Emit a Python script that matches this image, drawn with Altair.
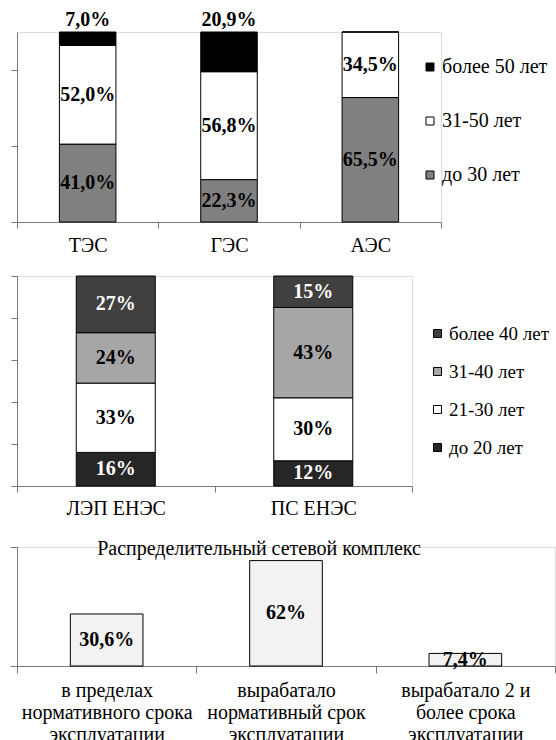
import altair as alt
import pandas as pd

FONT = "Liberation Serif"
AXIS_GRAY = "#7a7a7a"

# ---------- Panel 1: power plants ----------
p1_categories = ["ТЭС", "ГЭС", "АЭС"]
p1_groups = ["до 30 лет", "31-50 лет", "более 50 лет"]          # bottom -> top
p1_colors = ["#808080", "#ffffff", "#000000"]
p1_under30 = [41.0, 22.3, 65.5]
p1_31_50 = [52.0, 56.8, 34.5]
p1_over50 = [7.0, 20.9, 0.0]

# ---------- Panel 2: UNEG networks ----------
p2_categories = ["ЛЭП ЕНЭС", "ПС ЕНЭС"]
p2_groups = ["до 20 лет", "21-30 лет", "31-40 лет", "более 40 лет"]  # bottom -> top
p2_colors = ["#262626", "#ffffff", "#a6a6a6", "#404040"]
p2_under20 = [16, 12]
p2_21_30 = [33, 30]
p2_31_40 = [24, 43]
p2_over40 = [27, 15]

# ---------- Panel 3: distribution grid ----------
p3_title = "Распределительный сетевой комплекс"
p3_categories = [
    "в пределах\nнормативного срока\nэксплуатации",
    "вырабатало\nнормативный срок\nэксплуатации",
    "вырабатало 2 и\nболее срока\nэксплуатации",
]
p3_values = [30.6, 62.0, 7.4]


def fmt1(v):
    return f"{v:.1f}".replace(".", ",") + "%"


def fmt_auto(v):
    return (f"{int(v)}%" if float(v).is_integer() else fmt1(v))


rows1 = []
for i, c in enumerate(p1_categories):
    for k, (g, vals) in enumerate(zip(p1_groups, [p1_under30, p1_31_50, p1_over50])):
        rows1.append({"cat": c, "grp": g, "ord": k, "value": vals[i],
                      "label": fmt1(vals[i]), "top": 1 if k == 2 else 0})
df1 = pd.DataFrame(rows1)

rows2 = []
for i, c in enumerate(p2_categories):
    for k, (g, vals) in enumerate(zip(p2_groups, [p2_under20, p2_21_30, p2_31_40, p2_over40])):
        rows2.append({"cat": c, "grp": g, "ord": k, "value": vals[i],
                      "label": f"{vals[i]}%", "dark": 1 if k in (0, 3) else 0})
df2 = pd.DataFrame(rows2)

df3 = pd.DataFrame({"cat": p3_categories, "value": p3_values,
                    "label": [fmt_auto(v) for v in p3_values]})


def yaxis(vals, tick=6):
    return alt.Axis(labels=False, title=None, grid=False, values=vals, tickSize=tick,
                    domainColor=AXIS_GRAY, tickColor=AXIS_GRAY)


def xaxis(pad=7, tick=6, lh=None):
    kw = dict(title=None, labelAngle=0, tickBand="extent", tickSize=tick,
              domainColor=AXIS_GRAY, tickColor=AXIS_GRAY, labelColor="black",
              labelFont=FONT, labelFontSize=20, labelPadding=pad, labelBaseline="top")
    if lh is not None:
        kw["labelLineHeight"] = lh
        kw["labelExpr"] = "split(datum.label, '\\n')"
    return alt.Axis(**kw)


def legend(x, y, rowpad, fs):
    return alt.Legend(orient="none", legendX=x, legendY=y, title=None,
                      symbolType="square", symbolSize=64, symbolStrokeColor="black",
                      symbolStrokeWidth=1, labelFont=FONT, labelFontSize=fs,
                      labelColor="black", rowPadding=rowpad, labelOffset=2, padding=0)


# ---- Panel 1 chart ----
x1 = alt.X("cat:N", sort=p1_categories, scale=alt.Scale(paddingInner=0, paddingOuter=0),
           axis=xaxis(pad=7))
y1s = alt.Scale(domain=[0, 100])
base1 = alt.Chart(df1)
bars1 = base1.mark_bar(width=alt.RelativeBandSize(0.4), stroke="black", strokeWidth=1).encode(
    x=x1,
    y=alt.Y("value:Q", stack="zero", scale=y1s, axis=yaxis([0, 20, 40, 60, 80, 100])),
    color=alt.Color("grp:N", scale=alt.Scale(domain=p1_groups[::-1], range=p1_colors[::-1]),
                    legend=legend(403, 25, 34, 20)),
    order=alt.Order("ord:Q", sort="ascending"),
)
stk1 = base1.transform_filter("datum.value > 0").transform_stack(
    stack="value", groupby=["cat"], as_=["y0", "y1"],
    sort=[alt.SortField("ord", order="ascending")]
).transform_calculate(mid="(datum.y0 + datum.y1) / 2")
mid1 = stk1.transform_filter("datum.top == 0").mark_text(
    font=FONT, fontWeight="bold", fontSize=20, color="black", baseline="middle").encode(
    x=alt.X("cat:N", sort=p1_categories), y=alt.Y("mid:Q", scale=y1s), text="label:N")
top1 = stk1.transform_filter("datum.top == 1").mark_text(
    font=FONT, fontWeight="bold", fontSize=20, color="black", baseline="alphabetic", dy=-6).encode(
    x=alt.X("cat:N", sort=p1_categories), y=alt.Y("y1:Q", scale=y1s), text="label:N")
panel1 = alt.layer(bars1, mid1, top1).properties(width=424, height=190)

# ---- Panel 2 chart ----
x2 = alt.X("cat:N", sort=p2_categories, scale=alt.Scale(paddingInner=0, paddingOuter=0),
           axis=xaxis(pad=6))
y2s = alt.Scale(domain=[0, 100])
base2 = alt.Chart(df2)
bars2 = base2.mark_bar(width=alt.RelativeBandSize(0.4), stroke="black", strokeWidth=1).encode(
    x=x2,
    y=alt.Y("value:Q", stack="zero", scale=y2s, axis=yaxis([0, 20, 40, 60, 80, 100])),
    color=alt.Color("grp:N", scale=alt.Scale(domain=p2_groups[::-1], range=p2_colors[::-1]),
                    legend=legend(411, 48, 18, 19)),
    order=alt.Order("ord:Q", sort="ascending"),
)
stk2 = base2.transform_stack(
    stack="value", groupby=["cat"], as_=["y0", "y1"],
    sort=[alt.SortField("ord", order="ascending")]
).transform_calculate(mid="(datum.y0 + datum.y1) / 2")
dark2 = stk2.transform_filter("datum.dark == 1").mark_text(
    font=FONT, fontWeight="bold", fontSize=20, color="white", baseline="middle").encode(
    x=alt.X("cat:N", sort=p2_categories), y=alt.Y("mid:Q", scale=y2s), text="label:N")
light2 = stk2.transform_filter("datum.dark == 0").mark_text(
    font=FONT, fontWeight="bold", fontSize=20, color="black", baseline="middle").encode(
    x=alt.X("cat:N", sort=p2_categories), y=alt.Y("mid:Q", scale=y2s), text="label:N")
panel2 = alt.layer(bars2, dark2, light2).properties(width=395, height=210)

# ---- Panel 3 chart ----
x3 = alt.X("cat:N", sort=p3_categories, scale=alt.Scale(paddingInner=0, paddingOuter=0),
           axis=xaxis(pad=7, tick=7, lh=22))
y3s = alt.Scale(domain=[0, 70])
base3 = alt.Chart(df3)
bars3 = base3.mark_bar(width=alt.RelativeBandSize(0.405), fill="#f2f2f2",
                       stroke="black", strokeWidth=1).encode(
    x=x3, y=alt.Y("value:Q", scale=y3s, axis=yaxis([0, 10, 20, 30, 40, 50, 60, 70], tick=7)))
text3 = base3.transform_calculate(mid="datum.value / 2").mark_text(
    font=FONT, fontWeight="bold", fontSize=20, color="black", baseline="middle").encode(
    x=alt.X("cat:N", sort=p3_categories), y=alt.Y("mid:Q", scale=y3s), text="label:N")
panel3 = alt.layer(bars3, text3).properties(
    width=538, height=119,
    title=alt.TitleParams(p3_title, font=FONT, fontSize=20, fontWeight="normal", color="black",
                          anchor="middle", baseline="alphabetic", offset=0, dy=28, dx=-27),
)

chart = alt.vconcat(panel1, panel2, panel3, spacing=19).resolve_scale(
    color="independent", x="independent", y="independent"
).resolve_legend(color="independent").properties(
    padding={"left": 9, "top": 9, "right": 0, "bottom": 0}
).configure_view(stroke=None).configure(background="white")

chart.save("out.html", embed_options={"renderer": "svg", "actions": False})
